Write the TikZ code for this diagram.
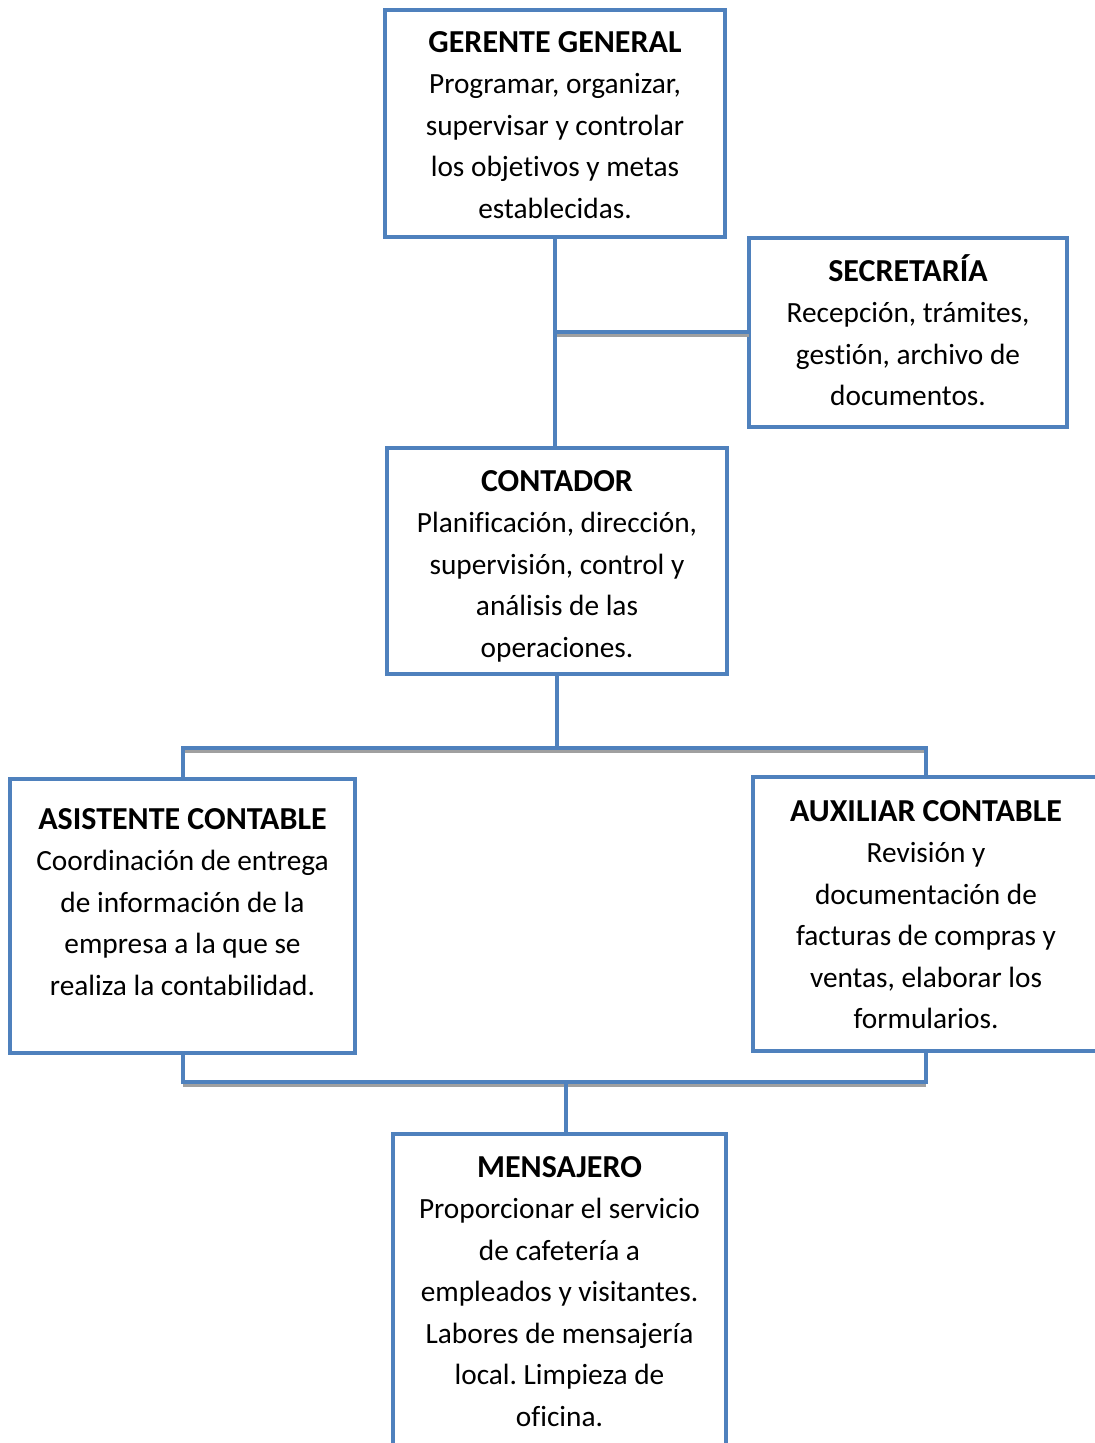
\documentclass[tikz,border=0pt]{standalone}
\usepackage{fontspec}
\setmainfont[Ligatures=NoCommon]{Carlito}
\usetikzlibrary{positioning}
\definecolor{ofblue}{HTML}{4F81BD}
\definecolor{shgray}{HTML}{A0A0A0}
\newcommand{\ttl}[1]{\strut{\fontsize{16}{20.75}\selectfont\textbf{#1}}}
\frenchspacing

\begin{document}
\begin{tikzpicture}[x=0.5pt,y=-0.5pt,
    cargo/.style={draw=ofblue,line width=2pt,outer sep=0pt,inner sep=0pt},
    desc/.style={align=center,inner sep=0pt,font=\fontsize{14.66}{20.75}\selectfont},
    linea/.style={ofblue,line width=2pt},
    sombra/.style={shgray,line width=2pt,transform canvas={yshift=-1.5pt}}]
      \useasboundingbox (0,0) rectangle (1094,1443);

      % cajas
      \node[cargo,minimum width=170pt,minimum height=113.5pt] (ger) at (555,123.5) {};
      \node[cargo,minimum width=159pt,minimum height=94.5pt] (sec) at (908,332.5) {};
      \node[cargo,minimum width=170pt,minimum height=113pt] (con) at (557,561) {};
      \node[cargo,minimum width=172.5pt,minimum height=137pt] (asi) at (182.5,916) {};
      \node[cargo,minimum width=173pt,minimum height=137pt] (aux) at (926,914) {};
      \node[cargo,minimum width=166.5pt,minimum height=168pt] (men) at (559.5,1302) {};

      % textos
      \node[desc,below=6.5pt of ger.north] (gerT) {\ttl{GERENTE GENERAL}\\Programar, organizar,\\supervisar y controlar\\los objetivos y metas\\establecidas.};
      \node[desc,below=7pt of sec.north] (secT) {\ttl{SECRETARÍA}\\Recepción, trámites,\\gestión, archivo de\\documentos.};
      \node[desc,below=7pt of con.north] (conT) {\ttl{CONTADOR}\\Planificación, dirección,\\supervisión, control y\\análisis de las\\operaciones.};
      \node[desc,below=10.5pt of asi.north] (asiT) {\ttl{ASISTENTE CONTABLE}\\Coordinación de entrega\\de información de la\\empresa a la que se\\realiza la contabilidad.};
      \node[desc,below=7.5pt of aux.north] (auxT) {\ttl{AUXILIAR CONTABLE}\\Revisión y\\documentación de\\facturas de compras y\\ventas, elaborar los\\formularios.};
      \node[desc,below=7pt of men.north] (menT) {\ttl{MENSAJERO}\\Proporcionar el servicio\\de cafetería a\\empleados y visitantes.\\Labores de mensajería\\local. Limpieza de\\oficina.};

      \coordinate (bus1) at (556,748);
      \coordinate (bus2) at (566,1082);

      % sombras
      \draw[sombra] (ger.south |- sec.west) -- (sec.west);
      \draw[sombra] (asi.north |- bus1) -- (aux.north |- bus1);
      \draw[sombra] (asi.south |- bus2) -- (aux.south |- bus2);

      % conectores
      \draw[linea] (ger.south) -- (ger.south |- con.north);
      \draw[linea] (ger.south |- sec.west) -- (sec.west);
      \draw[linea] (con.south) -- (con.south |- bus1);
      \draw[linea] (asi.north) -- (asi.north |- bus1) -- (aux.north |- bus1) -- (aux.north);
      \draw[linea] (asi.south) -- (asi.south |- bus2) -- (aux.south |- bus2) -- (aux.south);
      \draw[linea] (bus2) -- (bus2 |- men.north);
\end{tikzpicture}
\end{document}
